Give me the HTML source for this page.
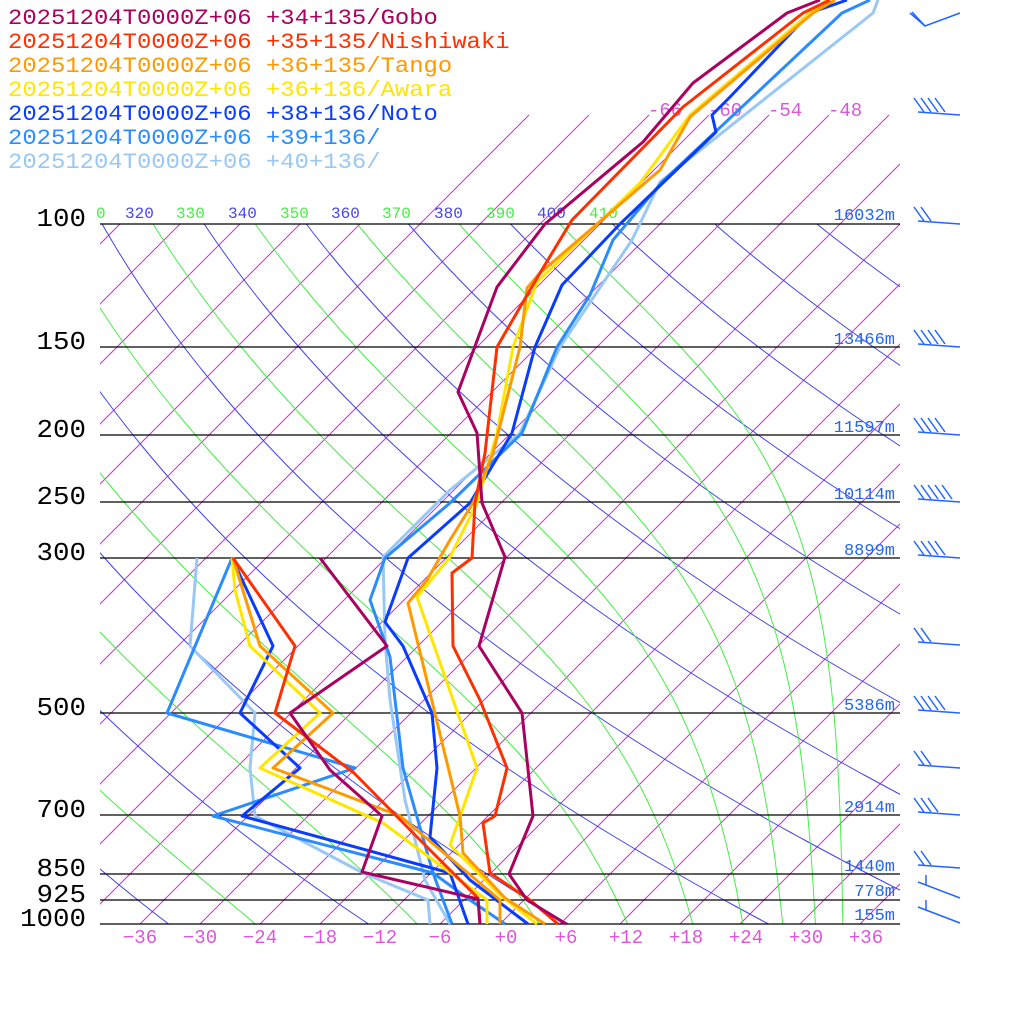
<!DOCTYPE html>
<html><head><meta charset="utf-8"><style>html,body{margin:0;padding:0;background:#fff}svg{display:block}</style></head>
<body>
<svg id="s" width="1024" height="1024" xmlns="http://www.w3.org/2000/svg" font-family="Liberation Mono, monospace"></svg>
<script>
const S=document.getElementById('s');let h='';
const Y=p=>924-Math.log10(1000/p)*700;
const P=y=>1000*Math.pow(10,-(924-y)/700);
const X=(T,y)=>500+10*T+(924-y);
h+='<defs><clipPath id="c"><rect x="100" y="224" width="800" height="700"/></clipPath><clipPath id="c2"><rect x="100" y="112" width="800" height="812"/></clipPath></defs>';
let g='';
for(let T=-150;T<=45;T+=6){const yt=T>=-78?115:224;g+=`<line x1="${X(T,924)}" y1="924" x2="${X(T,yt)}" y2="${yt}"/>`;}
h+=`<g clip-path="url(#c2)" stroke="#cc33cc" stroke-width="1">${g}</g>`;
const K=0.292;
g='';
for(let th=200;th<=460;th+=20){let pts=[];for(let y=224;y<=924;y+=4){const T=th*Math.pow(P(y)/1000,K)-273.15;pts.push(X(T,y).toFixed(1)+','+y);}g+=`<polyline points="${pts.join(' ')}"/>`;}
h+=`<g clip-path="url(#c)" fill="none" stroke="#4040ee" stroke-width="1">${g}</g>`;
function the(Tc,p){const es=6.112*Math.exp(17.67*Tc/(Tc+243.5));const rs=0.622*es/Math.max(p-es,1);const Tk=Tc+273.15;return Tk*Math.pow(1000/p,K)*Math.exp(2.5e6*rs/(1005*Tk));}
g='';
for(let te=190;te<=410;te+=20){let pts=[];for(let y=224;y<=924;y+=4){const p=P(y);let a=-150,b=60;for(let i=0;i<40;i++){const m=(a+b)/2;if(the(m,p)<te)a=m;else b=m;}pts.push(X(a,y).toFixed(1)+','+y);}g+=`<polyline points="${pts.join(' ')}"/>`;}
h+=`<g clip-path="url(#c)" fill="none" stroke="#44ee44" stroke-width="1">${g}</g>`;
const tl=[[310,80],[320,125],[330,176],[340,228],[350,280],[360,331],[370,382],[380,434],[390,486],[400,537],[410,589]];
tl.forEach(([v,x],i)=>{if(x<100){h+=`<text x="96" y="218" font-size="16" fill="#44ee44">0</text>`;return;}h+=`<text x="${x}" y="218" font-size="16" fill="${i%2?'#4444ee':'#44ee44'}">${v}</text>`;});
[[100,224],[150,347],[200,435],[250,502],[300,558],[500,713],[700,815],[850,874],[925,900],[1000,924]].forEach(([p,y])=>{
h+=`<line x1="100" y1="${y}" x2="900" y2="${y}" stroke="#000" stroke-width="1.2"/>`;
const s=String(p);h+=`<text x="${86-s.length*16.5}" y="${y+2}" font-size="26" font-family="Liberation Mono, monospace" textLength="${s.length*16.5}" lengthAdjust="spacingAndGlyphs" fill="#000">${p}</text>`;});
[['16032m',220],['13466m',344],['11597m',432],['10114m',499],['8899m',555],['5386m',710],['2914m',812],['1440m',871],['778m',896],['155m',920]].forEach(([t,y])=>{h+=`<text x="895" y="${y}" font-size="17" text-anchor="end" fill="#2266ee">${t}</text>`;});
[['-66',648],['-60',708],['-54',768],['-48',828]].forEach(([t,x])=>{h+=`<text x="${x}" y="116" font-size="19" fill="#dd55dd">${t}</text>`;});
for(let T=-36;T<=36;T+=6){const t=(T>=0?'+':'')+T;h+=`<text x="${X(T,924)+(T>=0?6:0)}" y="943" font-size="19" text-anchor="middle" fill="#dd55dd">${t.replace('-','\u2212')}</text>`;}
const ser=[
['#99c8f5',[[450,924],[425,880],[405,800],[390,700],[385,640],[383,557],[450,490],[520,433],[560,347],[632,240],[660,182],[873,13],[878,0]],[[430,924],[428,900],[363,873],[255,816],[250,768],[255,713],[190,646],[197,558]]],
['#2a8cff',[[505,924],[470,900],[433,873],[403,768],[390,657],[370,600],[385,558],[450,503],[522,433],[557,347],[590,295],[613,240],[662,182],[842,13],[870,0]],[[452,924],[433,873],[213,816],[355,768],[167,713],[232,558]]],
['#0a3cff',[[528,924],[470,880],[430,837],[437,768],[432,713],[403,646],[385,622],[408,558],[470,503],[512,433],[535,347],[562,285],[620,224],[716,132],[712,115],[730,97],[810,13],[847,0]],[[468,924],[450,873],[242,816],[300,768],[240,713],[273,646],[232,558]]],
['#ffe600',[[537,924],[500,895],[450,845],[477,768],[417,597],[450,557],[477,503],[497,433],[513,347],[537,282],[640,183],[690,115],[810,13],[827,0]],[[487,924],[487,900],[383,823],[260,768],[320,713],[250,646],[235,590],[232,558]]],
['#ff9900',[[545,924],[505,898],[463,853],[460,816],[408,603],[427,580],[450,540],[473,503],[493,453],[520,347],[527,288],[540,273],[660,170],[690,117],[813,13],[835,0]],[[500,924],[500,900],[400,816],[273,768],[333,713],[260,646],[233,558]]],
['#ff3000',[[558,924],[530,900],[490,873],[483,823],[495,816],[507,768],[480,700],[453,646],[452,573],[472,558],[475,503],[485,453],[497,347],[523,302],[540,273],[572,220],[683,107],[803,13],[830,0]],[[480,924],[478,898],[420,840],[354,773],[275,713],[295,646],[233,558]]],
['#aa0060',[[566,924],[527,900],[509,874],[533,816],[522,713],[479,646],[505,557],[482,503],[477,433],[458,392],[497,287],[545,224],[643,142],[693,83],[787,13],[820,0]],[[480,924],[478,899],[362,872],[382,816],[330,770],[290,713],[387,646],[320,558]]]];
ser.forEach(([c,a,b])=>{[b,a].forEach(l=>{h+=`<polyline points="${l.map(q=>q.join(',')).join(' ')}" fill="none" stroke="${c}" stroke-width="3" stroke-linejoin="round"/>`;});});
const lg=[['+34+135/Gobo','#aa0060'],['+35+135/Nishiwaki','#ff3000'],['+36+135/Tango','#ff9900'],['+36+136/Awara','#ffe600'],['+38+136/Noto','#0a3cff'],['+39+136/','#2a8cff'],['+40+136/','#99c8f5']];
lg.forEach(([t,c],i)=>{const s='20251204T0000Z+06 '+t;h+=`<text x="8" y="${24+i*24}" font-size="22" fill="${c}" textLength="${s.length*14.33}" lengthAdjust="spacingAndGlyphs">${s}</text>`;});
const wb=[[13,2],[115,4],[224,2],[347,4],[435,4],[502,5],[558,4],[645,2],[713,4],[768,2],[815,3],[868,2],[890,1],[915,1]];
g='';
wb.forEach(([y,n],j)=>{if(j==0){g+=`<polyline points="910,13 925,26 960,13"/><line x1="912" y1="12" x2="925" y2="26"/>`;return;}
if(j>=12){const y0=y-8;g+=`<line x1="918" y1="${y0}" x2="960" y2="${y+8}"/><line x1="926" y1="${y0+3}" x2="926" y2="${y0-7}"/>`;return;}
const y0=y-3;g+=`<line x1="918" y1="${y0}" x2="960" y2="${y}"/>`;
for(let i=0;i<n;i++){const x=918+i*7;g+=`<line x1="${x+6}" y1="${y0}" x2="${x-4}" y2="${y0-14}"/>`;}});
h+=`<g stroke="#2266ff" stroke-width="1.5" fill="none">${g}</g>`;
S.innerHTML=h;
</script>
</body></html>
